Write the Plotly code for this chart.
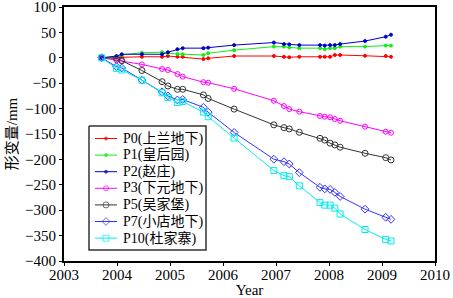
import plotly.graph_objects as go

dates = [2003.71, 2003.99, 2004.09, 2004.47, 2004.85, 2004.96, 2005.14, 2005.24,
         2005.63, 2005.72, 2006.21, 2006.96, 2007.15, 2007.25, 2007.44, 2007.83,
         2007.92, 2008.02, 2008.11, 2008.21, 2008.68, 2009.07, 2009.17]

p0 = [0, 0, 1, 2, 2, 3.5, 2, 2, -2.5, -1, 3.5, 3.5, 2, 1, 2, 2, 2, 2, 5.5, 5.5, 4, 3.5, 2]
p1 = [0, 2, 5.5, 10, 11, 9, 7.5, 7, 5.5, 9, 15, 22, 22, 20.5, 19, 19, 17, 19, 19, 22, 22, 24, 24]
p2 = [0, 3.5, 7, 7, 7, 11, 17, 19, 19, 20, 25, 30, 27, 26.5, 25, 25, 24, 25, 25, 27, 33, 41.5, 45.5]
p3 = [0, -5, -6, -13, -22, -24, -32, -37, -48, -49, -61, -84.5, -95, -101, -106, -114.5,
      -116, -117, -120.5, -124, -135.6, -145.5, -147.5]
p5 = [0, -1, -5.7, -25, -47, -55.5, -62, -62, -73, -80, -101, -132, -137.5, -140, -146.7,
      -158.5, -162, -168, -171.5, -176, -188, -196.6, -201]
p7 = [0, -17.5, -20, -44, -67, -75, -83, -82, -97.5, -107, -147, -199.6, -204.5, -209, -226,
      -255, -258, -259, -265, -273, -298, -314, -318]
p10 = [0, -20.7, -24, -44, -69, -78, -88, -86, -107, -116, -158, -222, -232, -234, -252,
       -285, -290, -290, -296, -307.5, -338, -357.5, -360.6]

x_ticks = [2003, 2004, 2005, 2006, 2007, 2008, 2009, 2010]
y_ticks = [100, 50, 0, -50, -100, -150, -200, -250, -300, -350, -400]
names = ["P0(上兰地下)", "P1(皇后园)", "P2(赵庄)", "P3(下元地下)", "P5(吴家堡)", "P7(小店地下)", "P10(杜家寨)"]
series = [p0, p1, p2, p3, p5, p7, p10]
colors = ["#FF0000", "#11EE11", "#0000CC", "#FF00FF", "#333333", "#3333FF", "#00EEEE"]
symbols = ["circle", "circle", "circle", "circle-open", "circle-open", "diamond-open", "square-open"]
sizes = [3, 3, 3, 5, 6, 6, 6]

font = "Liberation Serif, Times New Roman, Noto Sans CJK SC, serif"

fig = go.Figure()
for nm, ys, c, s, sz in zip(names, series, colors, symbols, sizes):
    fig.add_trace(go.Scatter(x=dates, y=ys, name=nm, mode="lines+markers", showlegend=False,
                             line=dict(color=c, width=1),
                             marker=dict(symbol=s, size=sz, color=c, line=dict(color=c, width=1))))

# Hand-drawn legend on an overlay axis measured in pixels of the plot area
L_X0, L_X1, L_Y0, L_Y1 = 89, 206, 126, 250
ROW0, ROWSTEP = 138.5, 16.6
fig.add_trace(go.Scatter(x=[L_X0, L_X1, L_X1, L_X0, L_X0], y=[L_Y0, L_Y0, L_Y1, L_Y1, L_Y0],
                         xaxis="x2", yaxis="y2", mode="lines", fill="toself", fillcolor="white",
                         line=dict(color="#333333", width=1.5), showlegend=False, hoverinfo="skip"))
for i, (nm, c, s, sz) in enumerate(zip(names, colors, symbols, sizes)):
    ry = ROW0 + ROWSTEP * i
    fig.add_trace(go.Scatter(x=[95, 106, 117], y=[ry, ry, ry], xaxis="x2", yaxis="y2",
                             mode="lines+markers", showlegend=False, hoverinfo="skip",
                             line=dict(color=c, width=1),
                             marker=dict(symbol=s, size=[0, sz, 0], color=c, line=dict(color=c, width=1))))
    fig.add_annotation(x=121, y=ry, xref="x2", yref="y2", text=nm, showarrow=False,
                       xanchor="left", yanchor="middle",
                       font=dict(family=font, size=14, color="black"))

fig.update_layout(
    width=453, height=298,
    margin=dict(l=64, r=18, t=7, b=37),
    paper_bgcolor="white", plot_bgcolor="white",
    font=dict(family=font, size=15, color="black"),
    showlegend=False,
    xaxis2=dict(overlaying="x", range=[64, 435], visible=False, fixedrange=True),
    yaxis2=dict(overlaying="y", range=[261, 7], visible=False, fixedrange=True),
    xaxis=dict(range=[2003, 2010], tickvals=x_ticks, showgrid=False, zeroline=False,
               showline=True, linecolor="black", linewidth=2, mirror=True, automargin=False,
               ticks="outside", ticklen=3, tickcolor="black", ticklabeloverflow="allow",
               title=dict(text="Year", standoff=0, font=dict(size=15))),
    yaxis=dict(range=[-400, 100], tickvals=y_ticks, showgrid=False, zeroline=False,
               showline=True, linecolor="black", linewidth=2, mirror=True, automargin=False,
               ticks="outside", ticklen=3, tickcolor="black", ticklabeloverflow="allow",
               title=dict(text="形变量/mm", standoff=4, font=dict(size=15))),
)
try:
    fig.update_xaxes(selector=dict(overlaying=None), ticklabelstandoff=-4)
    fig.layout.xaxis.ticklabelstandoff = -4
except Exception:
    pass

fig.write_html("out.html", config={"displayModeBar": False},
               post_script="document.body.style.margin='0px';")
